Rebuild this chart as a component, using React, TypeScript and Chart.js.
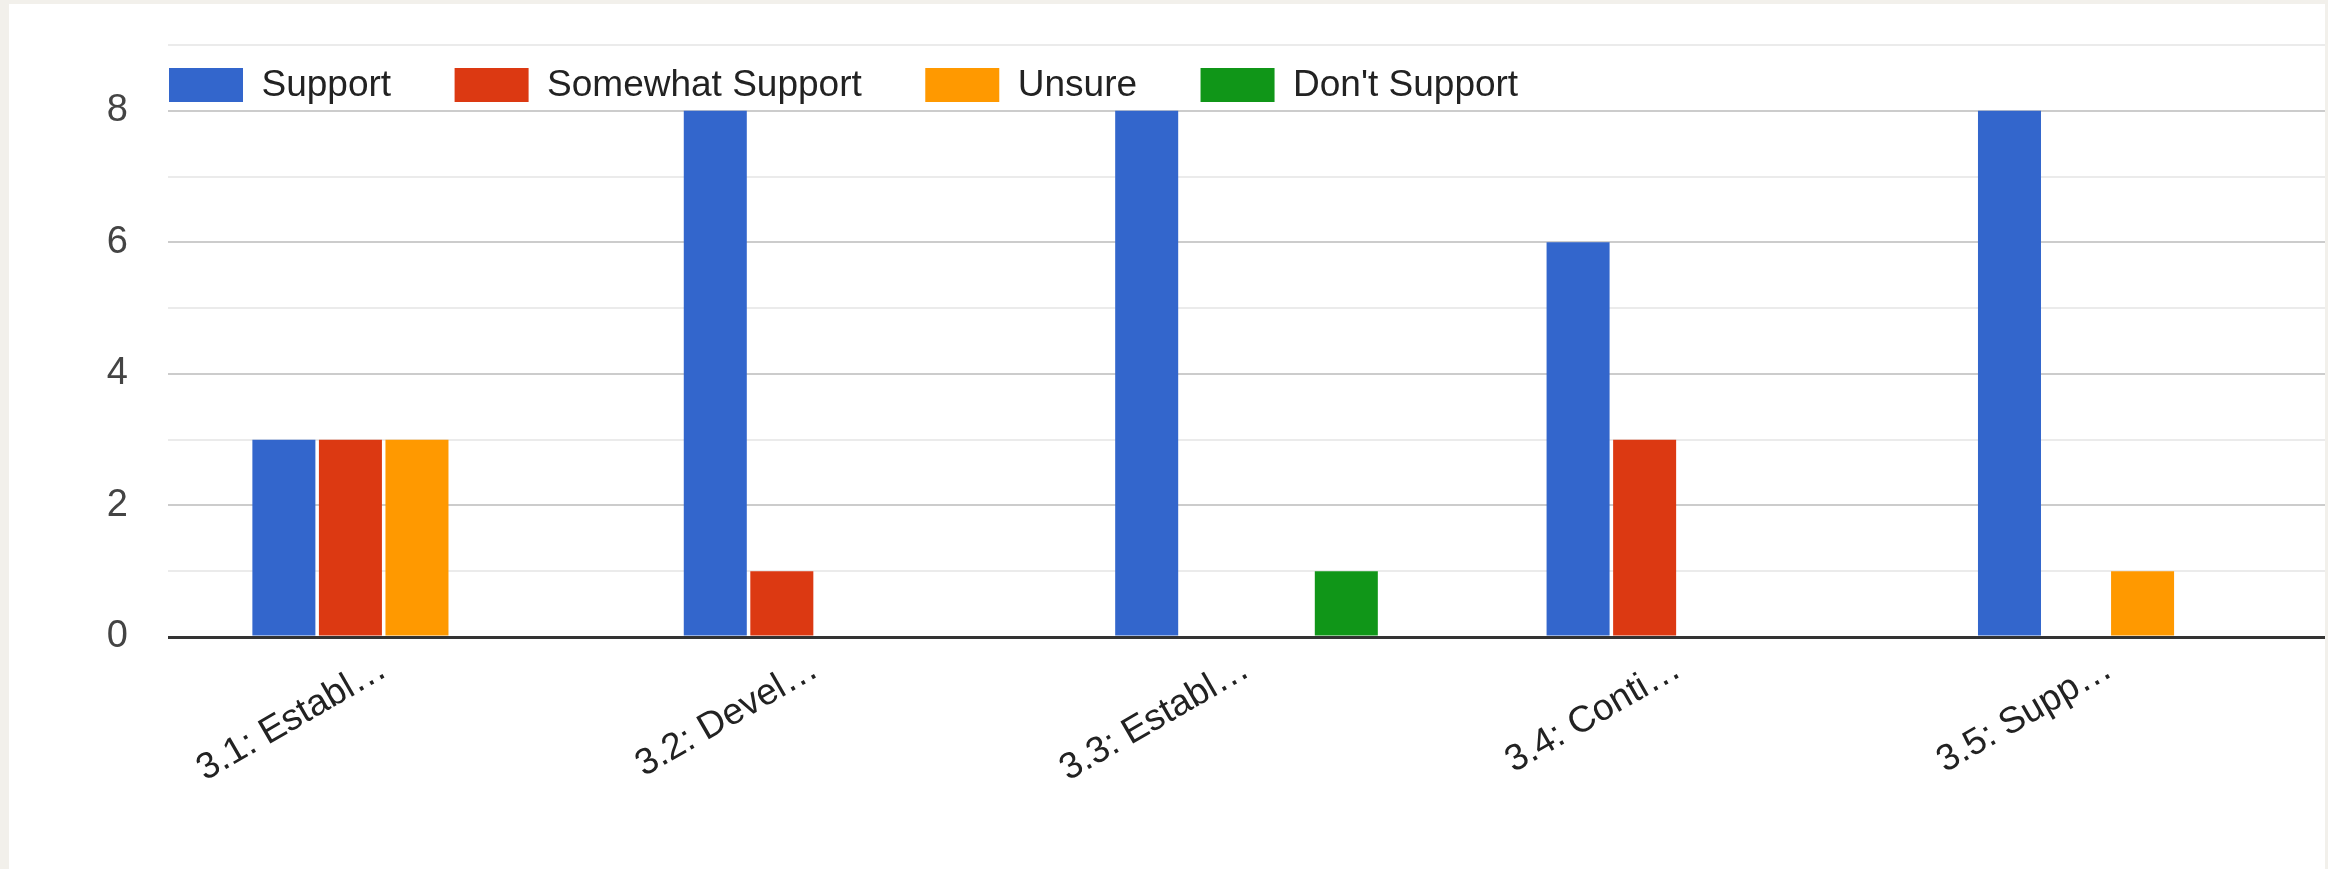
import React, { useEffect, useRef } from "react";
import { Chart, registerables } from "chart.js";

Chart.register(...registerables);

const categories = ["3.1: Establ…", "3.2: Devel…", "3.3: Establ…", "3.4: Conti…", "3.5: Supp…"];
const seriesNames = ["Support", "Somewhat Support", "Unsure", "Don't Support"];
const supportValues = [3, 8, 8, 6, 8];
const somewhatValues = [3, 1, 0, 3, 0];
const unsureValues = [3, 0, 0, 0, 1];
const dontSupportValues = [0, 0, 1, 0, 0];
const seriesColors = ["#3366cc", "#dc3912", "#ff9900", "#109618"];
const yMin = 0;
const yMax = 9;

const FONT = '"Liberation Sans", Arial, sans-serif';

const legendPlugin = {
  id: "insideLegend",
  afterDraw(chart: any) {
    const ctx = chart.ctx;
    const area = chart.chartArea;
    const fontSize = 37;
    const boxW = 74;
    const boxH = 34;
    const boxTop = area.top + 23;
    const gap = 63.5;
    let x = area.left + 1;
    ctx.save();
    ctx.font = `${fontSize}px ${FONT}`;
    ctx.textBaseline = "middle";
    ctx.textAlign = "left";
    chart.data.datasets.forEach((ds: any) => {
      ctx.fillStyle = ds.backgroundColor;
      ctx.fillRect(x, boxTop, boxW, boxH);
      ctx.fillStyle = "#222222";
      const tx = x + boxW + fontSize / 2;
      ctx.fillText(ds.label, tx, boxTop + boxH / 2 + 1);
      x = tx + ctx.measureText(ds.label).width + gap;
    });
    ctx.restore();
  },
};

export default function App() {
  const canvasRef = useRef<HTMLCanvasElement | null>(null);

  useEffect(() => {
    const canvas = canvasRef.current;
    if (!canvas) return;
    const values = [supportValues, somewhatValues, unsureValues, dontSupportValues];
    const chart = new Chart(canvas, {
      type: "bar",
      data: {
        labels: categories,
        datasets: seriesNames.map((name, i) => ({
          label: name,
          data: values[i],
          backgroundColor: seriesColors[i],
          borderWidth: 0,
          categoryPercentage: 0.617,
          barPercentage: 0.947,
        })),
      },
      options: {
        responsive: false,
        animation: false,
        devicePixelRatio: 1,
        layout: { padding: { top: 41, left: 0, right: 0, bottom: 0 } },
        plugins: {
          legend: { display: false },
          tooltip: { enabled: false },
        },
        scales: {
          x: {
            grid: { display: false, drawTicks: false },
            border: { display: false },
            ticks: {
              font: { family: FONT, size: 37 },
              color: "#222222",
              maxRotation: 30,
              minRotation: 30,
              autoSkip: false,
              padding: 10,
            },
            afterFit(scale: any) {
              scale.height = 232;
              scale.paddingLeft = 0;
              scale.paddingRight = 0;
            },
          },
          y: {
            min: yMin,
            max: yMax,
            border: { display: false },
            grid: {
              drawTicks: false,
              color: (ctx: any) => {
                const v = ctx.tick ? ctx.tick.value : 0;
                if (v === 0) return "#333333";
                return v % 2 === 0 ? "#cccccc" : "#ebebeb";
              },
              lineWidth: (ctx: any) => {
                const v = ctx.tick ? ctx.tick.value : 0;
                return v === 0 ? 3 : 2;
              },
            },
            ticks: {
              stepSize: 1,
              font: { family: FONT, size: 38 },
              color: "#444444",
              padding: 40,
              callback: (v: any) => (Number(v) % 2 === 0 ? String(v) : ""),
            },
            afterFit(scale: any) {
              scale.width = 159;
              scale.paddingTop = 0;
              scale.paddingBottom = 0;
            },
          },
        },
      },
      plugins: [legendPlugin],
    });
    return () => chart.destroy();
  }, []);

  return (
    <div
      style={{
        position: "fixed",
        left: 0,
        top: 0,
        width: 2328,
        height: 869,
        background: "#f2f0eb",
        overflow: "hidden",
      }}
    >
      <div
        style={{
          position: "absolute",
          left: 9,
          top: 4,
          width: 2316,
          height: 865,
          background: "#ffffff",
        }}
      >
        <canvas ref={canvasRef} width={2316} height={865} style={{ display: "block" }} />
      </div>
    </div>
  );
}
